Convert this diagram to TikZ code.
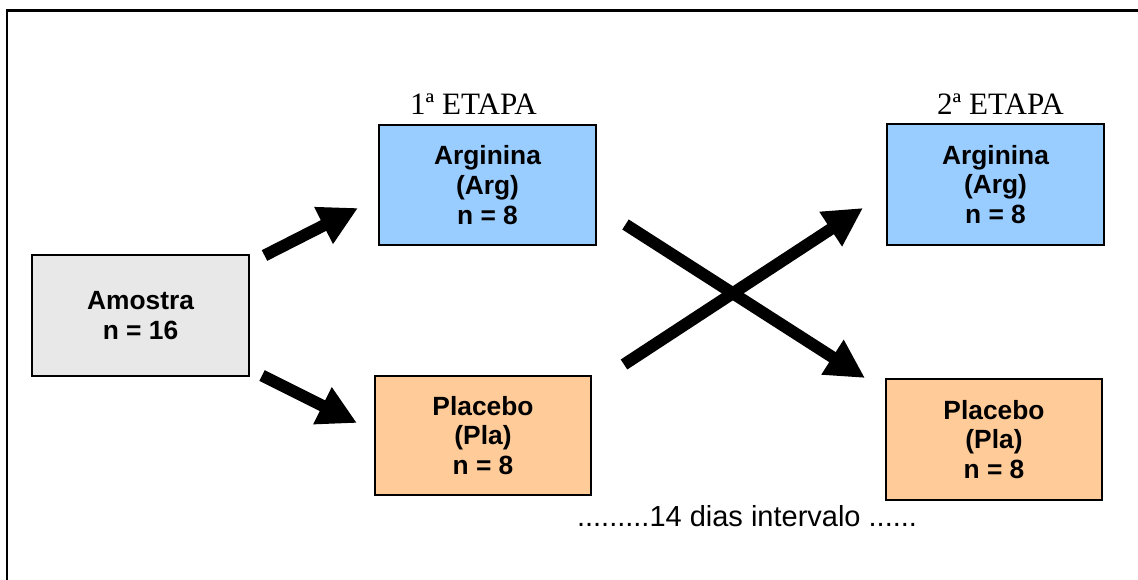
\documentclass[tikz,border=0pt]{standalone}
\usepackage{fontspec}
\setmainfont{Liberation Serif}
\setsansfont{Liberation Sans}
\usetikzlibrary{arrows.meta}
\definecolor{argblue}{HTML}{99CCFF}
\definecolor{plaorange}{HTML}{FFCC99}
\definecolor{samplegray}{HTML}{E8E8E8}
\begin{document}
\begin{tikzpicture}[x=0.02cm,y=-0.02cm,
  group/.style={draw=black, line width=1.1pt, minimum width=4.34cm,
    minimum height=2.4cm, inner sep=0pt, align=center,
    font=\sffamily\bfseries\fontsize{15}{17}\selectfont},
  stage/.style={anchor=base, inner sep=0pt,
    font=\fontsize{17.7}{20}\selectfont},
  flow/.style={line width=6.8pt, -{Triangle[length=22pt,width=22pt]}}
]
\clip (0,0) rectangle (1138,580);
\useasboundingbox (0,0) rectangle (1138,580);
\fill[white] (0,0) rectangle (1138,580);

% outer frame (runs past the right and bottom edges)
\draw[line width=1.7pt] (7,11) rectangle (1170,610);

% groups
\node[group, fill=samplegray, minimum height=2.42cm] (amostra) at (140.5,315.5) {Amostra\\n = 16};
\node[group, fill=argblue] (arg1) at (487.5,185) {Arginina\\(Arg)\\n = 8};
\node[group, fill=plaorange, minimum width=4.32cm, minimum height=2.38cm] (pla1) at (483,435.5) {Placebo\\(Pla)\\n = 8};
\node[group, fill=argblue, minimum height=2.42cm] (arg2) at (995.5,184.5) {Arginina\\(Arg)\\n = 8};
\node[group, fill=plaorange, minimum width=4.32cm, minimum height=2.42cm] (pla2) at (994,439.5) {Placebo\\(Pla)\\n = 8};

% stage headings
\node[stage] (etapa1) at (473.5,115) {1ª ETAPA};
\node[stage] (etapa2) at (1000.5,115) {2ª ETAPA};

% washout interval
\node[anchor=base, inner sep=0pt, font=\sffamily\fontsize{16.5}{20}\selectfont]
  (intervalo) at (747,526) {.........14 dias intervalo ......};

% arrow ends
\coordinate (a1s) at (264.5,255.5);
\coordinate (a1e) at (358,208);
\coordinate (a2s) at (262,375.5);
\coordinate (a2e) at (357,423);
\coordinate (x1s) at (625.5,224.5);
\coordinate (x1e) at (865,378);
\coordinate (x2s) at (624,364.5);
\coordinate (x2e) at (863,208);

\draw[flow] (a1s) -- (a1e);
\draw[flow] (a2s) -- (a2e);
\draw[flow] (x1s) -- (x1e);
\draw[flow] (x2s) -- (x2e);
\end{tikzpicture}
\end{document}
